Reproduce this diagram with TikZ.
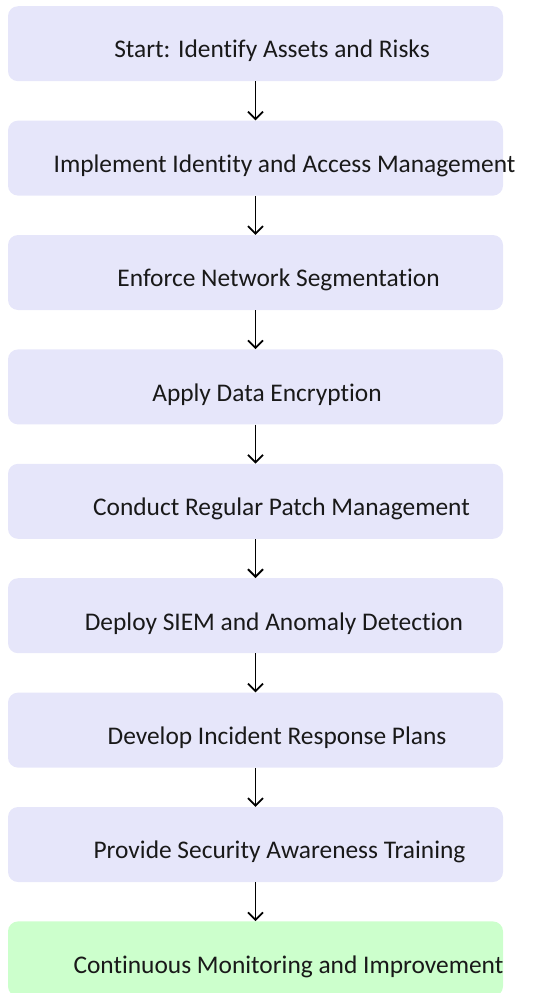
\documentclass[tikz,border=0pt]{standalone}
\usepackage{fontspec}
\setmainfont{Carlito}[Ligatures={NoCommon}]
\usetikzlibrary{arrows.meta}
\definecolor{stepfill}{RGB}{230,230,250}
\definecolor{endfill}{RGB}{204,255,204}
\tikzset{
  stepbox/.style={draw=none, fill=stepfill, rounded corners=10pt, minimum width=495pt, minimum height=75pt, inner sep=0pt, anchor=north},
  endbox/.style={stepbox, fill=endfill},
  steplabel/.style={anchor=base, inner sep=0pt, font=\fontsize{25.4}{30}\selectfont, text=black!90},
  flow/.style={line width=1.8pt, -{Straight Barb[length=7.5pt,width=15pt]}}
}
\begin{document}
\begin{tikzpicture}[x=1pt, y=-1pt]
  \useasboundingbox (0,0) rectangle (546,993);
  % boxes, 114.4pt apart
  \node[stepbox] (b1) at (255.5,6) {};
  \node[stepbox] (b2) at (255.5,120.4) {};
  \node[stepbox] (b3) at (255.5,234.8) {};
  \node[stepbox] (b4) at (255.5,349.2) {};
  \node[stepbox] (b5) at (255.5,463.6) {};
  \node[stepbox] (b6) at (255.5,578) {};
  \node[stepbox] (b7) at (255.5,692.4) {};
  \node[stepbox] (b8) at (255.5,806.8) {};
  \node[endbox]  (b9) at (255.5,921.2) {};
  % labels, set on the baseline
  \node[steplabel] (t1) at (272,57.5) {Start: Identify Assets and Risks};
  \node[steplabel] (t2) at (284.5,172) {Implement Identity and Access Management};
  \node[steplabel] (t3) at (278.5,286.5) {Enforce Network Segmentation};
  \node[steplabel] (t4) at (267,401) {Apply Data Encryption};
  \node[steplabel] (t5) at (281.5,515.5) {Conduct Regular Patch Management};
  \node[steplabel] (t6) at (274,630) {Deploy SIEM and Anomaly Detection};
  \node[steplabel] (t7) at (277,744.5) {Develop Incident Response Plans};
  \node[steplabel] (t8) at (279.5,858.5) {Provide Security Awareness Training};
  \node[steplabel] (t9) at (288.5,973) {Continuous Monitoring and Improvement};
  % connectors
  \foreach \a/\b in {b1/b2,b2/b3,b3/b4,b4/b5,b5/b6,b6/b7,b7/b8,b8/b9}
    \draw[flow] (\a.south) -- (\b.north);
\end{tikzpicture}
\end{document}
